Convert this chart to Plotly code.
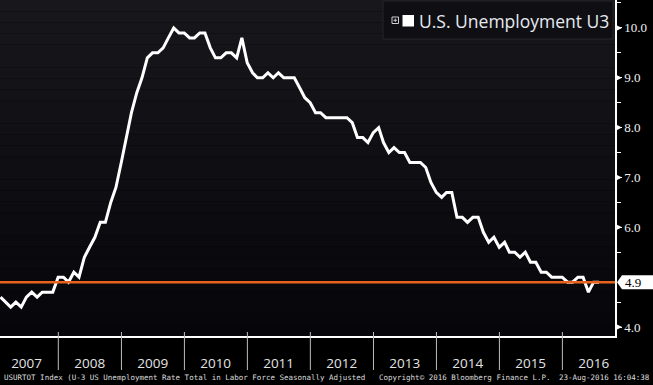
import plotly.graph_objects as go
import pandas as pd

# ---- data (monthly U-3 unemployment rate, %) ----
u2007 = [4.6, 4.5, 4.4, 4.5, 4.4, 4.6, 4.7, 4.6, 4.7, 4.7, 4.7, 5.0]
u2008 = [5.0, 4.9, 5.1, 5.0, 5.4, 5.6, 5.8, 6.1, 6.1, 6.5, 6.8, 7.3]
u2009 = [7.8, 8.3, 8.7, 9.0, 9.4, 9.5, 9.5, 9.6, 9.8, 10.0, 9.9, 9.9]
u2010 = [9.8, 9.8, 9.9, 9.9, 9.6, 9.4, 9.4, 9.5, 9.5, 9.4, 9.8, 9.3]
u2011 = [9.1, 9.0, 9.0, 9.1, 9.0, 9.1, 9.0, 9.0, 9.0, 8.8, 8.6, 8.5]
u2012 = [8.3, 8.3, 8.2, 8.2, 8.2, 8.2, 8.2, 8.1, 7.8, 7.8, 7.7, 7.9]
u2013 = [8.0, 7.7, 7.5, 7.6, 7.5, 7.5, 7.3, 7.3, 7.3, 7.2, 6.9, 6.7]
u2014 = [6.6, 6.7, 6.7, 6.2, 6.2, 6.1, 6.2, 6.2, 5.9, 5.7, 5.8, 5.6]
u2015 = [5.7, 5.5, 5.5, 5.4, 5.5, 5.3, 5.3, 5.1, 5.1, 5.0, 5.0, 5.0]
u2016 = [4.9, 4.9, 5.0, 5.0, 4.7, 4.9, 4.9]
last_value = 4.9
years = [2007, 2008, 2009, 2010, 2011, 2012, 2013, 2014, 2015, 2016]
y_tick_vals = [4, 6, 7, 8, 9, 10]
y_tick_text = ["4.0", "6.0", "7.0", "8.0", "9.0", "10.0"]
y_minor_vals = [4.5, 5.5, 6.5, 7.5, 8.5, 9.5, 10.5]
series_name = "U.S. Unemployment U3"
footer_left = "USURTOT Index (U-3 US Unemployment Rate Total in Labor Force Seasonally Adjusted"
footer_mid = "Copyright\u00a9 2016 Bloomberg Finance L.P."
footer_right = "23-Aug-2016 16:04:38"

values = u2007 + u2008 + u2009 + u2010 + u2011 + u2012 + u2013 + u2014 + u2015 + u2016
dates = pd.date_range("2007-01-01", periods=len(values), freq="MS") + pd.offsets.MonthEnd(0)

W, H = 653, 385
PW, PH = 615, 336  # plot area size in px


def px(xp):
    return xp / PW


def py(yp):
    return 1 - yp / PH


fig = go.Figure()
fig.add_trace(go.Scatter(
    x=dates, y=values, mode="lines",
    line=dict(color="white", width=3), showlegend=False, hoverinfo="skip",
))

shapes = []
# gradient background in plot area
N = 30
top = (24, 24, 28)
bot = (6, 6, 10)
for i in range(N):
    t = (i + 0.5) / N  # 0 bottom .. 1 top
    c = tuple(int(round(bot[k] + (top[k] - bot[k]) * t)) for k in range(3))
    shapes.append(dict(type="rect", xref="paper", yref="paper", x0=0, x1=1,
                       y0=i / N, y1=(i + 1) / N, fillcolor="rgb(%d,%d,%d)" % c,
                       line=dict(width=0), layer="below"))

# orange reference line at last value
shapes.append(dict(type="line", xref="paper", yref="y", x0=0, x1=1,
                   y0=last_value, y1=last_value,
                   line=dict(color="#e8641e", width=2.5), layer="above"))

# year separators
for yr in years[1:]:
    shapes.append(dict(type="line", xref="x", yref="paper",
                       x0="%d-01-01" % yr, x1="%d-01-01" % yr,
                       y0=-34 / PH, y1=4 / PH,
                       line=dict(color="#bdbdbd", width=1), layer="above"))

# right-axis triangle markers at major ticks
for v in y_tick_vals:
    shapes.append(dict(type="path", xref="paper", yref="y",
                       xsizemode="pixel", ysizemode="pixel", xanchor=1, yanchor=v,
                       path="M 1,-3 L 7,0 L 1,3 Z", fillcolor="white",
                       line=dict(width=0), layer="above"))

# last-value label box with arrow
shapes.append(dict(type="path", xref="paper", yref="y",
                   xsizemode="pixel", ysizemode="pixel", xanchor=1, yanchor=last_value,
                   path="M 2,0 L 7,-7 L 40,-7 L 40,7 L 7,7 Z", fillcolor="white",
                   line=dict(width=0), layer="above"))

# legend box
shapes.append(dict(type="rect", xref="paper", yref="paper",
                   x0=px(383), x1=px(613), y0=py(39), y1=py(1),
                   fillcolor="#0f0f13", line=dict(color="#26262a", width=1), layer="above"))
shapes.append(dict(type="rect", xref="paper", yref="paper",
                   x0=px(402.5), x1=px(414), y0=py(26.5), y1=py(15),
                   fillcolor="white", line=dict(width=0), layer="above"))
# small expand icon
shapes.append(dict(type="rect", xref="paper", yref="paper",
                   x0=px(392), x1=px(398.5), y0=py(23.5), y1=py(17),
                   fillcolor="rgba(0,0,0,0)", line=dict(color="#cfcfcf", width=1), layer="above"))
shapes.append(dict(type="line", xref="paper", yref="paper",
                   x0=px(393.5), x1=px(397), y0=py(20.25), y1=py(20.25),
                   line=dict(color="#cfcfcf", width=1), layer="above"))
shapes.append(dict(type="line", xref="paper", yref="paper",
                   x0=px(395.25), x1=px(395.25), y0=py(22), y1=py(18.5),
                   line=dict(color="#cfcfcf", width=1), layer="above"))

annotations = []
annotations.append(dict(xref="paper", yref="paper", x=px(417), y=py(20.5),
                        xanchor="left", yanchor="middle", showarrow=False,
                        text=series_name,
                        font=dict(size=17.5, color="#e6e9f0", family="Open Sans")))

annotations.append(dict(xref="paper", yref="y", x=1, y=last_value, xanchor="left",
                        yanchor="middle", xshift=8, showarrow=False, text="4.9",
                        font=dict(size=13, color="black", family="Liberation Serif")))

# footer
foot_font = dict(size=7.5, color="#dcdcdc", family="DejaVu Sans Mono")
annotations.append(dict(xref="paper", yref="paper", x=px(2), y=0, yshift=-41,
                        xanchor="left", yanchor="middle", showarrow=False,
                        text=footer_left, font=foot_font))
annotations.append(dict(xref="paper", yref="paper", x=px(377), y=0, yshift=-41,
                        xanchor="left", yanchor="middle", showarrow=False,
                        text=footer_mid, font=foot_font))
annotations.append(dict(xref="paper", yref="paper", x=px(652), y=0, yshift=-41,
                        xanchor="right", yanchor="middle", showarrow=False,
                        text=footer_right, font=foot_font))

fig.update_layout(
    width=W, height=H,
    margin=dict(l=0, r=W - PW, t=0, b=H - PH, pad=0),
    paper_bgcolor="black", plot_bgcolor="black",
    showlegend=False,
    shapes=shapes, annotations=annotations,
    xaxis=dict(
        type="date", range=["2007-01-28", "2016-11-01"],
        tickmode="array",
        tickvals=["%d-07-01" % y for y in years],
        ticktext=[str(y) for y in years],
        ticks="outside", ticklen=14, tickcolor="rgba(0,0,0,0)",
        tickfont=dict(size=13.5, color="#e4e4e4", family="Open Sans"),
        showgrid=False, zeroline=False,
        showline=True, linecolor="white", linewidth=1.5,
        fixedrange=True,
    ),
    yaxis=dict(
        side="right", range=[3.82, 10.56],
        tickmode="array", tickvals=y_tick_vals, ticktext=y_tick_text,
        ticks="outside", ticklen=5, tickcolor="white", tickwidth=1,
        minor=dict(tickvals=y_minor_vals, ticks="outside", ticklen=4,
                   tickcolor="white", tickwidth=1, showgrid=False),
        tickfont=dict(size=13, color="#f0f0f0", family="Liberation Serif"),
        showgrid=False, zeroline=False,
        showline=True, linecolor="white", linewidth=1.5,
        fixedrange=True,
    ),
)

fig.write_html(
    "out.html",
    config={"displayModeBar": False},
    post_script="document.body.style.margin='0';document.body.style.background='black';",
)
